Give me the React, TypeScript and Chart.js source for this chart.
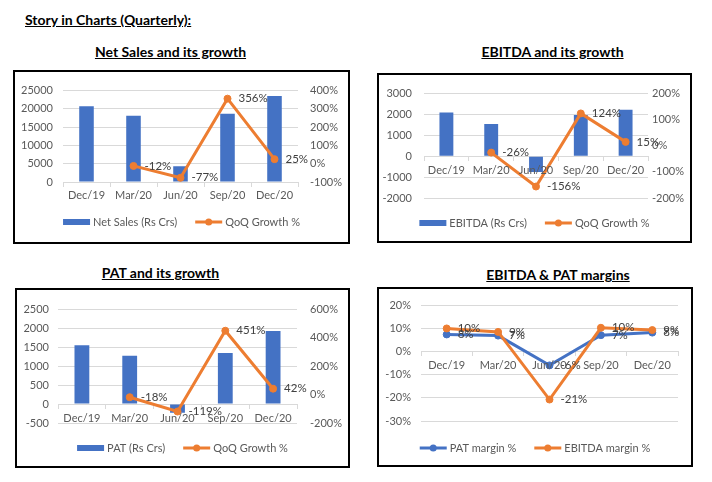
import React, { useEffect, useRef } from "react";
import { Chart, registerables } from "chart.js";

Chart.register(...registerables);

// ---------- data ----------
const quarters = ["Dec/19", "Mar/20", "Jun/20", "Sep/20", "Dec/20"];

const netSales = [20700, 18100, 4300, 18700, 23500];
const netSalesGrowth = [null, -12, -77, 356, 25];

const ebitda = [2100, 1550, -750, 1970, 2230];
const ebitdaGrowth = [null, -26, -156, 124, 15];

const pat = [1555, 1280, -230, 1350, 1935];
const patGrowth = [null, -18, -119, 451, 42];

const patMargin = [7.5, 7.0, -5.9, 7.2, 8.3];
const ebitdaMargin = [10.1, 8.6, -20.7, 10.4, 9.4];

// axis ranges
const salesAxis = [0, 25000, 5000];
const salesGrowthAxis = [-100, 400, 100];
const ebitdaAxis = [-2000, 3000, 1000];
const ebitdaGrowthAxis = [-200, 200, 100];
const patAxis = [-500, 2500, 500];
const patGrowthAxis = [-200, 600, 200];
const marginAxis = [-30, 20, 10];

// ---------- style ----------
const FONT = "Lato, 'Open Sans', sans-serif";
const BLUE = "#4472C4";
const ORANGE = "#ED7D31";
const GRID = "#D9D9D9";
const TICK = "#595959";
const LABEL = "#404040";

const pct = (v: any) => v + "%";

const labelPlugin = {
  id: "xlLabels",
  afterDatasetsDraw(chart: any) {
    const ctx = chart.ctx;
    ctx.save();
    ctx.font = `11.5px ${FONT}`;
    ctx.fillStyle = LABEL;
    ctx.textAlign = "left";
    ctx.textBaseline = "middle";
    chart.data.datasets.forEach((ds: any, di: number) => {
      const meta = chart.getDatasetMeta(di);
      if (meta.type !== "line") return;
      meta.data.forEach((pt: any, i: number) => {
        const v = ds.data[i];
        if (v == null) return;
        ctx.fillText(Math.round(v) + "%", pt.x + 11, pt.y);
      });
    });
    ctx.restore();
  },
};

const legendPlugin = {
  id: "xlLegend",
  afterDraw(chart: any, _a: any, opts: any) {
    const ctx = chart.ctx;
    ctx.save();
    ctx.font = `11px ${FONT}`;
    const keyW = 27, gapT = 3, gapI = 18;
    const items = chart.data.datasets.map((ds: any, di: number) => ({
      label: ds.label,
      type: chart.getDatasetMeta(di).type,
      color: ds.borderColor || ds.backgroundColor,
    }));
    const widths = items.map((it: any) => keyW + gapT + ctx.measureText(it.label).width);
    const total = widths.reduce((a: number, b: number) => a + b, 0) + gapI * (items.length - 1);
    let x = (chart.width - total) / 2;
    const y = opts.y;
    items.forEach((it: any, i: number) => {
      if (it.type === "bar") {
        ctx.fillStyle = it.color;
        ctx.fillRect(x, y - 3, keyW, 6);
      } else {
        ctx.strokeStyle = it.color;
        ctx.lineWidth = 3;
        ctx.beginPath();
        ctx.moveTo(x, y);
        ctx.lineTo(x + keyW, y);
        ctx.stroke();
        ctx.fillStyle = it.color;
        ctx.beginPath();
        ctx.arc(x + keyW / 2, y, 3.5, 0, Math.PI * 2);
        ctx.fill();
      }
      ctx.fillStyle = TICK;
      ctx.textAlign = "left";
      ctx.textBaseline = "middle";
      ctx.fillText(it.label, x + keyW + gapT, y);
      x += widths[i] + gapI;
    });
    ctx.restore();
  },
};

function xScale(pad: number) {
  return {
    type: "category",
    position: { y: 0 },
    offset: true,
    grid: { display: true, drawOnChartArea: false, offset: true, color: GRID, tickColor: GRID, tickLength: 4 },
    border: { display: true, color: GRID, width: 1 },
    ticks: { color: TICK, font: { family: FONT, size: 11 }, padding: pad, maxRotation: 0, autoSkip: false, z: 1 },
  };
}

function yLeft(range: number[], width: number, pad: number, fmt?: any) {
  return {
    type: "linear",
    position: "left",
    min: range[0],
    max: range[1],
    ticks: { stepSize: range[2], color: TICK, font: { family: FONT, size: 11 }, padding: pad, callback: fmt || ((v: any) => v) },
    grid: { color: GRID, drawTicks: false, lineWidth: 1 },
    border: { display: false },
    afterFit: (s: any) => { s.width = width; },
  };
}

function yRight(range: number[], width: number, pad: number) {
  return {
    type: "linear",
    position: "right",
    min: range[0],
    max: range[1],
    ticks: { stepSize: range[2], color: TICK, font: { family: FONT, size: 11 }, padding: pad, callback: pct },
    grid: { display: false, drawTicks: false },
    border: { display: false },
    afterFit: (s: any) => { s.width = width; },
  };
}

function lineDs(label: string, data: any[], color: string, axis?: string, order = 0) {
  const d: any = {
    type: "line",
    label,
    data,
    borderColor: color,
    backgroundColor: color,
    borderWidth: 3,
    pointRadius: 3.5,
    pointBorderWidth: 1,
    pointBackgroundColor: color,
    pointBorderColor: color,
    tension: 0,
    order,
  };
  if (axis) d.yAxisID = axis;
  return d;
}

function comboConfig(barLabel: string, bars: number[], lineLabel: string, growth: any[], lAxis: number[], rAxis: number[], g: any) {
  return {
    type: "bar",
    data: {
      labels: quarters,
      datasets: [
        { type: "bar", label: barLabel, data: bars, backgroundColor: BLUE, borderColor: BLUE, barPercentage: 0.31, categoryPercentage: 1, yAxisID: "y", order: 1 },
        lineDs(lineLabel, growth, ORANGE, "y1", 0),
      ],
    },
    options: {
      responsive: false,
      animation: false,
      layout: { padding: { left: 0, right: 0, top: g.top, bottom: g.bottom } },
      plugins: { legend: { display: false }, tooltip: { enabled: false }, xlLegend: { y: g.legendY } },
      scales: {
        x: xScale(g.xPad),
        y: yLeft(lAxis, g.leftW, g.leftPad),
        y1: yRight(rAxis, g.rightW, g.rightPad),
      },
    },
    plugins: [labelPlugin, legendPlugin],
  };
}

function marginConfig() {
  return {
    type: "line",
    data: {
      labels: quarters,
      datasets: [
        lineDs("PAT margin %", patMargin, BLUE, undefined, 2),
        lineDs("EBITDA margin %", ebitdaMargin, ORANGE, undefined, 1),
      ],
    },
    options: {
      responsive: false,
      animation: false,
      layout: { padding: { left: 0, right: 13, top: 11, bottom: 44 } },
      plugins: { legend: { display: false }, tooltip: { enabled: false }, xlLegend: { y: 159 } },
      scales: {
        x: xScale(3),
        y: yLeft(marginAxis, 42, 10, pct),
      },
    },
    plugins: [labelPlugin, legendPlugin],
  };
}

type Box = { l: number; t: number; w: number; h: number };

function ChartBox({ box, make }: { box: Box; make: () => any }) {
  const ref = useRef<HTMLCanvasElement>(null);
  useEffect(() => {
    const chart = new Chart(ref.current as HTMLCanvasElement, make());
    return () => chart.destroy();
  }, []);
  return (
    <div
      style={{
        position: "absolute",
        left: box.l,
        top: box.t,
        width: box.w,
        height: box.h,
        border: "2px solid #000",
        boxSizing: "border-box",
        background: "#fff",
      }}
    >
      <canvas
        ref={ref}
        width={box.w - 4}
        height={box.h - 4}
        style={{ position: "absolute", left: 0, top: 0, width: box.w - 4, height: box.h - 4 }}
      />
    </div>
  );
}

function Title({ text, x, top, size, center }: { text: string; x: number; top: number; size: number; center?: boolean }) {
  return (
    <div
      style={{
        position: "absolute",
        left: x,
        top,
        transform: center ? "translateX(-50%)" : undefined,
        fontFamily: FONT,
        fontWeight: 700,
        fontSize: size,
        lineHeight: size + "px",
        textDecoration: "underline",
        whiteSpace: "nowrap",
        color: "#000",
      }}
    >
      {text}
    </div>
  );
}

export default function App() {
  return (
    <div style={{ position: "absolute", left: 0, top: 0, width: 712, height: 482, background: "#fff", overflow: "hidden" }}>
      <Title text="Story in Charts (Quarterly):" x={25} top={13} size={14} />
      <Title text="Net Sales and its growth" x={170.5} top={44.5} size={14} center />
      <Title text="EBITDA and its growth" x={552.5} top={44.5} size={14} center />
      <Title text="PAT and its growth" x={160.5} top={266} size={14} center />
      <Title text="EBITDA & PAT margins" x={558} top={268} size={14} center />

      <ChartBox
        box={{ l: 13, t: 70, w: 337, h: 174 }}
        make={() =>
          comboConfig("Net Sales (Rs Crs)", netSales, "QoQ Growth %", netSalesGrowth, salesAxis, salesGrowthAxis, {
            top: 13, bottom: 60, leftW: 48, leftPad: 10, rightW: 50, rightPad: 12, xPad: 3, legendY: 150,
          })
        }
      />
      <ChartBox
        box={{ l: 377, t: 73, w: 315, h: 170 }}
        make={() =>
          comboConfig("EBITDA (Rs Crs)", ebitda, "QoQ Growth %", ebitdaGrowth, ebitdaAxis, ebitdaGrowthAxis, {
            top: 13, bottom: 43, leftW: 45, leftPad: 12, rightW: 42, rightPad: 4, xPad: 4, legendY: 148,
          })
        }
      />
      <ChartBox
        box={{ l: 15, t: 288, w: 335, h: 180 }}
        make={() =>
          comboConfig("PAT (Rs Crs)", pat, "QoQ Growth %", patGrowth, patAxis, patGrowthAxis, {
            top: 13, bottom: 43, leftW: 41, leftPad: 9, rightW: 51, rightPad: 13, xPad: 4, legendY: 158,
          })
        }
      />
      <ChartBox box={{ l: 377, t: 287, w: 316, h: 180 }} make={marginConfig} />
    </div>
  );
}
